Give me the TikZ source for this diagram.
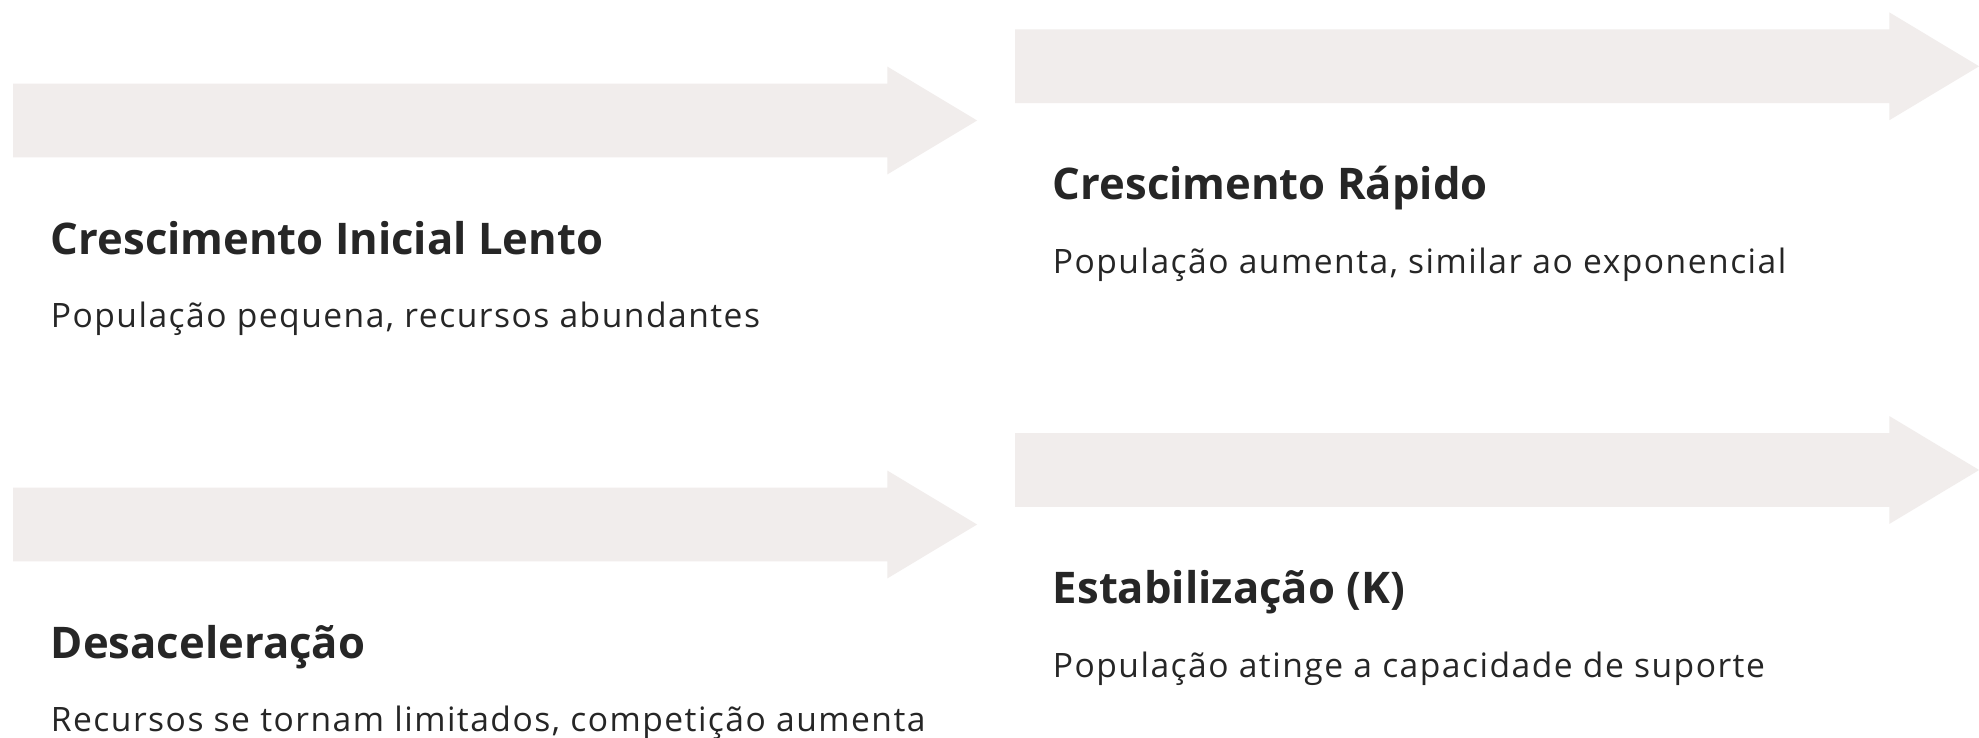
\documentclass[tikz,border=0pt]{standalone}
\usepackage{fontspec}
\setmainfont{Open Sans}
\newfontfamily\descfont[LetterSpace=4.4]{Open Sans}
\usetikzlibrary{calc,positioning,shapes.arrows}

\definecolor{arrowgray}{HTML}{F1EDEC}
\definecolor{textdark}{HTML}{262626}

\tikzset{
  phase/.style = {single arrow, fill = arrowgray, draw = none,
    minimum width = 53.5pt, minimum height = 482pt,
    inner xsep = 0pt, inner ysep = 18.25pt,
    single arrow head extend = 8.5pt, single arrow tip angle = 62,
    outer sep = 0pt, anchor = west},
  title/.style = {anchor = base west, inner sep = 0pt, text = textdark,
    font = \fontsize{21.8}{26}\selectfont\bfseries},
  desc/.style = {anchor = base west, inner sep = 0pt, text = textdark,
    font = \descfont\fontsize{16.8}{20}\selectfont}
}

\begin{document}
\begin{tikzpicture}[x = .5pt, y = -.5pt]
\fill[white] (0,0) rectangle (1979,738);
\useasboundingbox (0,0) rectangle (1979,738);
%\draw[red] (0,0) grid[step=100] (1979,738);
\foreach \n/\x/\y/\t/\d in {
  a/13/120.5/{Crescimento Inicial Lento}/{População pequena, recursos abundantes},
  b/1015/66.3/{Crescimento Rápido}/{População aumenta, similar ao exponencial},
  c/13/524.5/{Desaceleração}/{Recursos se tornam limitados, competição aumenta},
  d/1015/470/{Estabilização (K)}/{População atinge a capacidade de suporte}}{
  \node[phase] (arrow-\n) at (\x,\y) {};
  \node[title] (title-\n) at ($(arrow-\n.west)+(37.5,133.5)$) {\t};
  \node[desc] (desc-\n) at ($(title-\n.base west)+(0,73.5)$) {\d};
}
\end{tikzpicture}
\end{document}
